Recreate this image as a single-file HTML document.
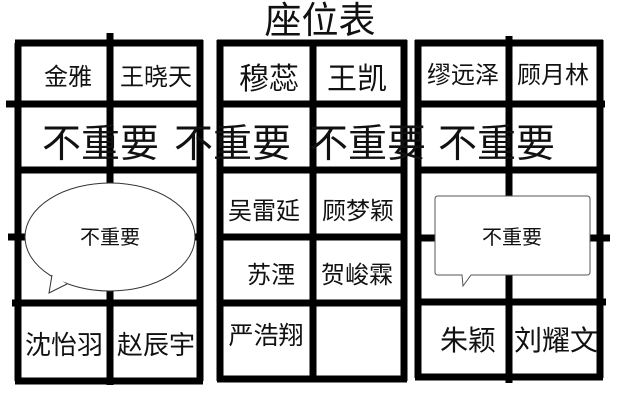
<!DOCTYPE html>
<html><head><meta charset="utf-8"><style>
body{margin:0;background:#fff;}
svg{display:block;}
text{font-family:"Liberation Sans","Noto Sans CJK SC",sans-serif;fill:#111;}
</style></head><body>
<svg width="640" height="409" viewBox="0 0 640 409" xmlns="http://www.w3.org/2000/svg">
<g stroke="#000" stroke-width="7" fill="none">
<line x1="18" y1="43" x2="18" y2="381"/>
<line x1="200" y1="40" x2="200" y2="381"/>
<line x1="110" y1="33" x2="110" y2="385"/>
<line x1="15" y1="43" x2="203" y2="43"/>
<line x1="6" y1="104" x2="203" y2="104"/>
<line x1="15" y1="170" x2="203" y2="170"/>
<line x1="8" y1="237" x2="203" y2="237"/>
<line x1="12" y1="303" x2="203" y2="303"/>
<line x1="15" y1="381" x2="203" y2="381"/>
<line x1="220" y1="40" x2="220" y2="381"/>
<line x1="404" y1="40" x2="404" y2="381"/>
<line x1="313" y1="40" x2="313" y2="381"/>
<line x1="217" y1="43" x2="407" y2="43"/>
<line x1="217" y1="104" x2="407" y2="104"/>
<line x1="217" y1="170" x2="407" y2="170"/>
<line x1="217" y1="237" x2="407" y2="237"/>
<line x1="217" y1="303" x2="407" y2="303"/>
<line x1="217" y1="379" x2="407" y2="379"/>
<line x1="418" y1="40" x2="418" y2="378"/>
<line x1="600" y1="40" x2="600" y2="378"/>
<line x1="509" y1="36" x2="509" y2="383"/>
<line x1="415" y1="43" x2="603" y2="43"/>
<line x1="415" y1="104" x2="605" y2="104"/>
<line x1="415" y1="170" x2="603" y2="170"/>
<line x1="415" y1="238" x2="610" y2="238"/>
<line x1="415" y1="302" x2="606" y2="302"/>
<line x1="415" y1="377" x2="603" y2="377"/>
</g>
<ellipse cx="110" cy="237" rx="85" ry="54" fill="#fff" stroke="#333" stroke-width="1"/>
<path d="M52,275 L49,293 L67,284" fill="#fff" stroke="#333" stroke-width="1"/>
<path d="M53,276 L51,288 L64,281 Z" fill="#fff"/>
<path d="M438,196 H587 Q590,196 590,199 V272 Q590,275 587,275 H471 L463,286 L462,275 H438 Q435,275 435,272 V199 Q435,196 438,196 Z" fill="#fff" stroke="#555" stroke-width="1"/>
<text x="320" y="33" font-size="37" text-anchor="middle">座位表</text>
<g font-size="24" text-anchor="middle">
<text x="68" y="85">金雅</text>
<text x="156" y="85">王晓天</text>
<text x="269" y="89" font-size="30">穆蕊</text>
<text x="357" y="89" font-size="30">王凯</text>
<text x="463" y="83">缪远泽</text>
<text x="553" y="83">顾月林</text>
<text x="264" y="219">吴雷延</text>
<text x="358" y="219">顾梦颖</text>
<text x="271" y="283">苏湮</text>
<text x="357" y="283">贺峻霖</text>
<text x="266" y="344" font-size="25">严浩翔</text>
<text x="64" y="354" font-size="26">沈怡羽</text>
<text x="156" y="354" font-size="26">赵辰宇</text>
<text x="468" y="350" font-size="28">朱颖</text>
<text x="556" y="350" font-size="28">刘耀文</text>
<text x="110" y="244" font-size="20">不重要</text>
<text x="512" y="244" font-size="20">不重要</text>
</g>
<g font-size="39">
<text x="42" y="157">不重要</text>
<text x="174" y="157">不重要</text>
<text x="309" y="157">不重要</text>
<text x="438" y="157">不重要</text>
</g>
</svg>
</body></html>
